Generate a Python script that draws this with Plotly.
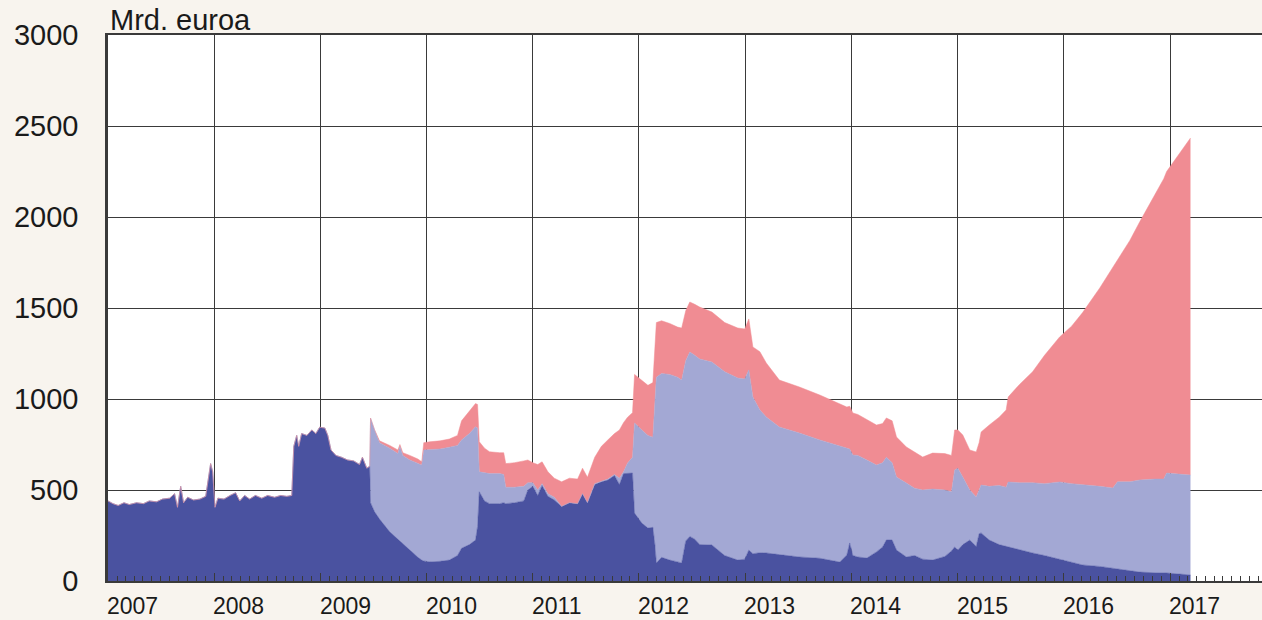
import plotly.graph_objects as go

dates = [
    "2007-01-01", "2007-01-18", "2007-02-05", "2007-02-25", "2007-03-15", "2007-04-09", "2007-05-03", "2007-05-23", "2007-06-17", "2007-07-07",
    "2007-08-01", "2007-08-18", "2007-08-28", "2007-09-08", "2007-09-18", "2007-10-02", "2007-10-22", "2007-11-13", "2007-12-03", "2007-12-13",
    "2007-12-20", "2007-12-27", "2008-01-04", "2008-01-14", "2008-02-04", "2008-02-25", "2008-03-15", "2008-03-29", "2008-04-15", "2008-05-02",
    "2008-05-22", "2008-06-13", "2008-07-03", "2008-07-27", "2008-08-17", "2008-09-07", "2008-09-24", "2008-10-01", "2008-10-11", "2008-10-18",
    "2008-10-28", "2008-11-15", "2008-12-02", "2008-12-16", "2008-12-29", "2009-01-16", "2009-01-26", "2009-02-06", "2009-02-23", "2009-03-14",
    "2009-04-04", "2009-04-25", "2009-05-15", "2009-05-25", "2009-06-09", "2009-06-19", "2009-06-22", "2009-07-06", "2009-07-23", "2009-08-27",
    "2009-09-24", "2009-10-01", "2009-10-11", "2009-11-04", "2009-12-02", "2009-12-15", "2009-12-22", "2010-01-12", "2010-02-16", "2010-03-20",
    "2010-04-17", "2010-05-01", "2010-05-28", "2010-06-18", "2010-06-25", "2010-07-01", "2010-07-19", "2010-08-05", "2010-09-09", "2010-09-23",
    "2010-09-30", "2010-10-30", "2010-12-01", "2010-12-15", "2011-01-01", "2011-01-18", "2011-02-02", "2011-02-22", "2011-03-16", "2011-04-10",
    "2011-05-07", "2011-06-04", "2011-06-21", "2011-07-08", "2011-08-02", "2011-08-25", "2011-09-16", "2011-10-09", "2011-10-26", "2011-11-09",
    "2011-11-23", "2011-12-10", "2011-12-17", "2012-01-11", "2012-02-01", "2012-02-18", "2012-02-25", "2012-03-01", "2012-03-19", "2012-04-16",
    "2012-05-13", "2012-05-27", "2012-06-10", "2012-06-24", "2012-07-11", "2012-07-28", "2012-09-08", "2012-10-22", "2012-12-06", "2012-12-30",
    "2013-01-13", "2013-01-27", "2013-02-20", "2013-03-14", "2013-04-28", "2013-07-06", "2013-09-14", "2013-11-22", "2013-12-16", "2013-12-26",
    "2014-01-06", "2014-01-23", "2014-02-23", "2014-03-28", "2014-04-18", "2014-05-01", "2014-05-21", "2014-06-05", "2014-07-09", "2014-08-06",
    "2014-09-03", "2014-10-07", "2014-11-18", "2014-12-11", "2014-12-22", "2015-01-02", "2015-01-19", "2015-02-12", "2015-03-06", "2015-03-16",
    "2015-03-23", "2015-04-20", "2015-05-24", "2015-06-17", "2015-06-24", "2015-08-02", "2015-09-16", "2015-10-27", "2015-12-18", "2016-01-28",
    "2016-03-06", "2016-05-04", "2016-06-18", "2016-07-04", "2016-08-15", "2016-09-19", "2016-11-10", "2016-12-10", "2016-12-20", "2017-02-04",
    "2017-03-12",
]

dark = [
    440, 425, 415, 430, 420, 430, 425, 440, 435, 450,
    455, 480, 405, 520, 430, 460, 445, 450, 465, 560,
    645, 600, 405, 455, 450, 470, 485, 440, 470, 450,
    470, 455, 470, 460, 470, 465, 470, 740, 800, 740,
    810, 800, 830, 810, 845, 840, 800, 720, 690, 680,
    665, 660, 640, 680, 620, 630, 430, 380, 340, 270,
    230, 215, 205, 170, 130, 115, 110, 105, 108, 115,
    140, 180, 200, 225, 300, 490, 440, 425, 425, 430,
    425, 430, 440, 500, 520, 470, 525, 465, 445, 410,
    430, 425, 480, 430, 530, 545, 555, 580, 530, 590,
    593, 593, 373, 318, 291, 295, 200, 99, 130, 115,
    105, 99, 220, 245, 230, 200, 198, 140, 115, 120,
    170, 150, 155, 154, 145, 132, 125, 104, 143, 209,
    140, 132, 126, 160, 187, 225, 225, 170, 132, 140,
    120, 115, 135, 165, 187, 170, 200, 225, 190, 260,
    264, 225, 200, 190, 187, 170, 154, 140, 120, 105,
    88, 80, 71, 68, 58, 49, 45, 44, 44, 38,
    33,
]

light = [
    0, 0, 0, 0, 0, 0, 0, 0, 0, 0,
    0, 0, 0, 0, 0, 0, 0, 0, 0, 0,
    0, 0, 0, 0, 0, 0, 0, 0, 0, 0,
    0, 0, 0, 0, 0, 0, 0, 0, 0, 0,
    0, 0, 0, 0, 0, 0, 0, 0, 0, 0,
    0, 0, 0, 0, 0, 0, 465, 450, 420, 460,
    470, 525, 485, 495, 515, 522, 610, 617, 617, 620,
    605, 595, 610, 623, 540, 110, 155, 165, 165, 155,
    90, 85, 80, 40, 20, 30, 10, 15, 15, 0,
    0, 0, 0, 0, 5, 5, 5, 5, 35, 10,
    55, 87, 495, 512, 509, 495, 800, 1021, 1010, 1020,
    1015, 1005, 990, 1013, 1010, 1020, 1005, 1010, 1000, 990,
    990, 861, 785, 747, 701, 681, 650, 636, 588, 516,
    552, 558, 539, 477, 463, 455, 425, 401, 406, 370,
    380, 390, 365, 325, 423, 450, 371, 275, 272, 240,
    263, 295, 325, 325, 357, 370, 386, 395, 424, 430,
    442, 440, 440, 477, 487, 506, 515, 516, 549, 550,
    549,
]

pink = [
    0, 0, 0, 0, 0, 0, 0, 0, 0, 0,
    0, 0, 0, 0, 0, 0, 0, 0, 0, 0,
    0, 0, 0, 0, 0, 0, 0, 0, 0, 0,
    0, 0, 0, 0, 0, 0, 0, 0, 0, 0,
    0, 0, 0, 0, 0, 0, 0, 0, 0, 0,
    0, 0, 0, 0, 0, 0, 0, 0, 10, 15,
    20, 10, 15, 25, 25, 18, 40, 43, 45, 45,
    55, 105, 120, 127, 130, 165, 135, 120, 115, 120,
    130, 135, 140, 125, 110, 140, 120, 120, 105, 135,
    135, 135, 140, 140, 145, 190, 215, 225, 265, 270,
    252, 245, 267, 270, 275, 300, 300, 300, 290, 280,
    275, 286, 275, 275, 280, 285, 275, 270, 275, 275,
    280, 275, 320, 297, 258, 253, 247, 235, 225, 235,
    231, 225, 220, 220, 215, 216, 230, 220, 198, 200,
    181, 198, 200, 200, 220, 210, 231, 220, 247, 260,
    292, 337, 375, 425, 467, 540, 610, 705, 797, 865,
    945, 1090, 1214, 1220, 1325, 1420, 1560, 1650, 1657, 1762,
    1852,
]

years = [2007, 2008, 2009, 2010, 2011, 2012, 2013, 2014, 2015, 2016, 2017]
y_ticks = [0, 500, 1000, 1500, 2000, 2500, 3000]
unit_label = "Mrd. euroa"

DARK = "#4a52a0"
LIGHT = "#a3a8d4"
PINK = "#f08c93"
GRID = "#3a3a3a"
TEXT = "#1a1a1a"
BG = "#f8f4ee"
FONT = "Liberation Sans, Arial, sans-serif"

fig = go.Figure()
for name, vals, col in [("dark", dark, DARK), ("light", light, LIGHT), ("pink", pink, PINK)]:
    fig.add_trace(go.Scatter(
        x=dates, y=vals, name=name, mode="lines", stackgroup="one",
        line=dict(width=0.5, color=col), fillcolor=col, showlegend=False,
    ))

for yr in years:
    fig.add_annotation(
        x=f"{yr}-01-01", y=0, xref="x", yref="paper", text=str(yr),
        xanchor="left", yanchor="top", xshift=-3, yshift=-10, showarrow=False,
        font=dict(family=FONT, size=23, color=TEXT),
    )

fig.add_annotation(
    x=0, y=1, xref="paper", yref="paper", text=unit_label,
    xanchor="left", yanchor="bottom", xshift=0, yshift=-3, showarrow=False,
    font=dict(family=FONT, size=29, color=TEXT),
)

fig.update_layout(
    width=1262, height=620,
    margin=dict(l=108, r=0, t=35, b=39),
    paper_bgcolor=BG, plot_bgcolor="#ffffff",
    font=dict(family=FONT, color=TEXT),
    xaxis=dict(
        type="date", range=["2007-01-01", "2017-11-13"],
        tick0="2007-01-01", dtick="M12", showticklabels=False,
        showgrid=True, gridcolor=GRID, gridwidth=1.2,
        ticks="inside", ticklen=8, tickwidth=1.2, tickcolor=GRID,
        minor=dict(dtick="M1", tick0="2007-01-01", ticks="inside", ticklen=5, tickwidth=1, tickcolor=GRID, showgrid=False),
        showline=True, linecolor=GRID, linewidth=1.5, mirror=True,
        zeroline=False,
    ),
    yaxis=dict(
        range=[0, 3000], tickvals=y_ticks, ticktext=[str(v) for v in y_ticks],
        showgrid=True, gridcolor=GRID, gridwidth=1.2,
        showline=True, linecolor=GRID, linewidth=2.5,
        ticks="", ticklabelstandoff=21,
        tickfont=dict(size=29, color=TEXT),
        zeroline=False,
    ),
)

fig.write_html(
    "out.html",
    config={"displayModeBar": False},
    post_script="document.body.style.margin='0';document.body.style.background='" + BG + "';document.body.style.overflow='hidden';",
)
